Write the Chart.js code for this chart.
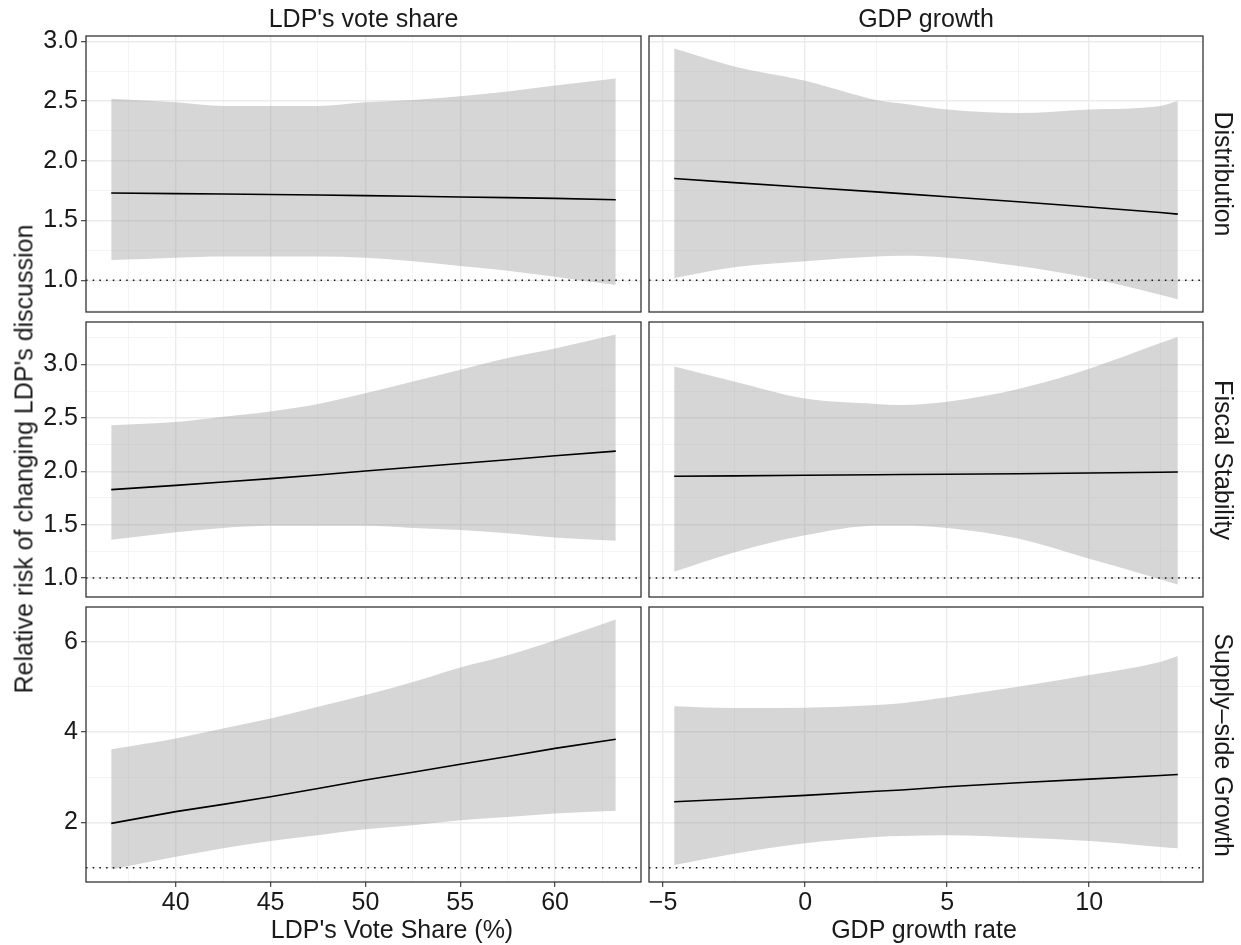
<!DOCTYPE html>
<html>
<head>
<meta charset="utf-8">
<script src="https://cdn.jsdelivr.net/npm/chart.js@4.4.0/dist/chart.umd.min.js"></script>
<style>
  body { margin: 0; background: #fff; }
  #wrap { position: relative; width: 1241px; height: 945px; overflow: hidden; font-family: "Liberation Sans", Arial, sans-serif; }
  #wrap canvas { position: absolute; left: 0; top: 0; }
  .lbl { position: absolute; white-space: nowrap; color: #1a1a1a; font-size: 25px; line-height: 1; }
  .center { transform: translate(-50%, -50%); }
  .rotl { transform: translate(-50%, -50%) rotate(-90deg); }
  .rotr { transform: translate(-50%, -50%) rotate(90deg); }
</style>
</head>
<body>
<div id="wrap"></div>
<script>
// facet labels
const colLabels = ["LDP's vote share", 'GDP growth'];
const rowLabels = ['Distribution', 'Fiscal Stability', 'Supply\u2013side Growth'];
const xTitles = ["LDP's Vote Share (%)", 'GDP growth rate'];
const yTitle = "Relative risk of changing LDP's discussion";

// x values where the curves were read
const voteShareX = [36.6, 40, 42.5, 45, 47.5, 50, 52.5, 55, 57.5, 60, 63.2];
const gdpX = [-4.61, -2.5, 0, 2.5, 3.4, 5, 7.5, 10, 12.5, 13.12];

// Distribution
const distVoteFit  = [1.731, 1.726, 1.722, 1.718, 1.714, 1.709, 1.704, 1.698, 1.692, 1.686, 1.675];
const distVoteLow  = [1.17, 1.19, 1.20, 1.20, 1.20, 1.19, 1.16, 1.12, 1.08, 1.03, 0.96];
const distVoteHigh = [2.52, 2.49, 2.46, 2.46, 2.46, 2.49, 2.51, 2.54, 2.58, 2.63, 2.69];
const distGdpFit   = [1.852, 1.818, 1.779, 1.740, 1.726, 1.699, 1.658, 1.614, 1.568, 1.554];
const distGdpLow   = [1.02, 1.11, 1.16, 1.20, 1.205, 1.19, 1.12, 1.02, 0.88, 0.84];
const distGdpHigh  = [2.94, 2.79, 2.67, 2.51, 2.48, 2.43, 2.40, 2.43, 2.46, 2.50];

// Fiscal Stability
const fiscalVoteFit  = [1.828, 1.868, 1.899, 1.931, 1.965, 2.003, 2.037, 2.073, 2.108, 2.145, 2.188];
const fiscalVoteLow  = [1.36, 1.43, 1.47, 1.49, 1.49, 1.49, 1.47, 1.45, 1.42, 1.38, 1.35];
const fiscalVoteHigh = [2.43, 2.46, 2.51, 2.56, 2.63, 2.73, 2.84, 2.95, 3.06, 3.15, 3.28];
const fiscalGdpFit   = [1.953, 1.957, 1.962, 1.967, 1.969, 1.972, 1.977, 1.983, 1.99, 1.993];
const fiscalGdpLow   = [1.06, 1.24, 1.40, 1.49, 1.49, 1.47, 1.37, 1.18, 0.99, 0.94];
const fiscalGdpHigh  = [2.98, 2.84, 2.68, 2.63, 2.62, 2.65, 2.77, 2.96, 3.20, 3.26];

// Supply-side Growth
const supplyVoteFit  = [1.98, 2.24, 2.40, 2.57, 2.75, 2.94, 3.11, 3.29, 3.46, 3.64, 3.84];
const supplyVoteLow  = [0.96, 1.24, 1.43, 1.59, 1.72, 1.85, 1.94, 2.05, 2.12, 2.20, 2.26];
const supplyVoteHigh = [3.62, 3.86, 4.08, 4.30, 4.56, 4.82, 5.11, 5.43, 5.70, 6.03, 6.49];
const supplyGdpFit   = [2.46, 2.52, 2.60, 2.69, 2.72, 2.79, 2.88, 2.96, 3.04, 3.06];
const supplyGdpLow   = [1.06, 1.31, 1.54, 1.68, 1.70, 1.72, 1.67, 1.59, 1.46, 1.43];
const supplyGdpHigh  = [4.57, 4.53, 4.54, 4.60, 4.64, 4.77, 5.00, 5.26, 5.55, 5.68];

// tick labels
const voteTicks = [40, 45, 50, 55, 60];
const gdpTicks = [-5, 0, 5, 10];
const distTicks = [1.0, 1.5, 2.0, 2.5, 3.0];
const fiscalTicks = [1.0, 1.5, 2.0, 2.5, 3.0];
const supplyTicks = [2, 4, 6];
const refLine = 1;

// page layout
const W = 1241, H = 945;
const colLeft = [86, 649], colRight = [641, 1203];
const rowTop = [36, 322, 607], rowBottom = [312, 597, 882];
const xTitleCenter = [392, 924];
const FONT = '"Liberation Sans", Arial, sans-serif';
const TICK_SIZE = 25;

const xs = [voteShareX, gdpX];
const xTicks = [voteTicks, gdpTicks];
const yTicks = [distTicks, fiscalTicks, supplyTicks];
const fits = [[distVoteFit, distGdpFit], [fiscalVoteFit, fiscalGdpFit], [supplyVoteFit, supplyGdpFit]];
const lows = [[distVoteLow, distGdpLow], [fiscalVoteLow, fiscalGdpLow], [supplyVoteLow, supplyGdpLow]];
const highs = [[distVoteHigh, distGdpHigh], [fiscalVoteHigh, fiscalGdpHigh], [supplyVoteHigh, supplyGdpHigh]];

// ggplot style 5% expansion
function expand(lo, hi) {
  const d = (hi - lo) * 0.05;
  return [lo - d, hi + d];
}
const xLim = xs.map(a => expand(Math.min(...a), Math.max(...a)));
const yLim = [0, 1, 2].map(r => {
  const all = lows[r][0].concat(lows[r][1], highs[r][0], highs[r][1], [refLine]);
  return expand(Math.min(...all), Math.max(...all));
});

function isMajor(v, major) {
  return major.some(m => Math.abs(m - v) < 1e-9);
}
// major ticks plus midpoints for minor grid
function gridValues(major, min, max) {
  const step = major[1] - major[0];
  const vals = major.slice();
  for (let i = -1; i < major.length; i++) vals.push(major[0] + (i + 0.5) * step);
  return vals.filter(v => v >= min && v <= max).sort((a, b) => a - b);
}
function fmt(v, major) {
  const dec = major.some(m => m % 1 !== 0) ? 1 : 0;
  const s = Math.abs(v).toFixed(dec);
  return v < 0 ? '\u2212' + s : s;
}

const framePlugin = {
  id: 'frame',
  afterDraw(chart) {
    const a = chart.chartArea, ctx = chart.ctx;
    ctx.save();
    ctx.strokeStyle = '#333333';
    ctx.lineWidth = 1.3;
    ctx.strokeRect(a.left, a.top, a.right - a.left, a.bottom - a.top);
    ctx.restore();
  }
};

function axisGrid(major, showTicks) {
  return {
    color: ctx => isMajor(ctx.tick.value, major) ? '#EBEBEB' : '#F3F3F3',
    lineWidth: ctx => isMajor(ctx.tick.value, major) ? 1.4 : 0.9,
    drawTicks: showTicks,
    tickLength: 5,
    tickWidth: 1.1,
    tickColor: ctx => isMajor(ctx.tick.value, major) ? '#333333' : 'rgba(0,0,0,0)'
  };
}

const wrap = document.getElementById('wrap');

function makePanel(r, c) {
  const canvas = document.createElement('canvas');
  canvas.width = W; canvas.height = H;
  canvas.style.width = W + 'px'; canvas.style.height = H + 'px';
  wrap.appendChild(canvas);

  const showX = r === 2, showY = c === 0;
  const yW = showY ? 70 : 0, xH = showX ? 40 : 0;
  const [xmin, xmax] = xLim[c], [ymin, ymax] = yLim[r];
  const xMajor = xTicks[c], yMajor = yTicks[r];
  const pts = arr => xs[c].map((x, i) => ({ x: x, y: arr[i] }));

  new Chart(canvas, {
    type: 'line',
    data: {
      datasets: [
        { data: pts(highs[r][c]), fill: '+1', backgroundColor: 'rgba(153,153,153,0.4)', borderWidth: 0, pointRadius: 0, cubicInterpolationMode: 'monotone', order: 3 },
        { data: pts(lows[r][c]), fill: false, borderWidth: 0, pointRadius: 0, cubicInterpolationMode: 'monotone', order: 3 },
        { data: pts(fits[r][c]), fill: false, borderColor: '#000', borderWidth: 1.6, pointRadius: 0, order: 1 },
        { data: [{ x: xmin, y: refLine }, { x: xmax, y: refLine }], fill: false, borderColor: '#111', borderWidth: 1.5, borderDash: [1.5, 5.2], pointRadius: 0, order: 0 }
      ]
    },
    options: {
      responsive: false,
      animation: false,
      events: [],
      layout: {
        padding: { left: colLeft[c] - yW, right: W - colRight[c], top: rowTop[r], bottom: H - rowBottom[r] - xH }
      },
      plugins: { legend: { display: false }, tooltip: { enabled: false } },
      scales: {
        x: {
          type: 'linear', min: xmin, max: xmax,
          afterBuildTicks: s => { s.ticks = gridValues(xMajor, xmin, xmax).map(v => ({ value: v })); },
          afterFit: s => { s.height = xH; },
          border: { display: false },
          grid: axisGrid(xMajor, showX),
          ticks: {
            display: showX, autoSkip: false, maxRotation: 0, padding: 1,
            color: '#1a1a1a', font: { family: FONT, size: TICK_SIZE },
            callback: v => isMajor(v, xMajor) ? fmt(v, xMajor) : ''
          }
        },
        y: {
          type: 'linear', min: ymin, max: ymax,
          afterBuildTicks: s => { s.ticks = gridValues(yMajor, ymin, ymax).map(v => ({ value: v })); },
          afterFit: s => { s.width = yW; },
          border: { display: false },
          grid: axisGrid(yMajor, showY),
          ticks: {
            display: showY, autoSkip: false, padding: 3,
            color: '#1a1a1a', font: { family: FONT, size: TICK_SIZE },
            callback: v => isMajor(v, yMajor) ? fmt(v, yMajor) : ''
          }
        }
      }
    },
    plugins: [framePlugin]
  });
}

for (let r = 0; r < 3; r++) {
  for (let c = 0; c < 2; c++) makePanel(r, c);
}

// strip and axis titles
function addLabel(text, x, y, cls) {
  const d = document.createElement('div');
  d.className = 'lbl ' + cls;
  d.style.left = x + 'px';
  d.style.top = y + 'px';
  d.textContent = text;
  wrap.appendChild(d);
}
colLabels.forEach((t, c) => addLabel(t, (colLeft[c] + colRight[c]) / 2, 18, 'center'));
rowLabels.forEach((t, r) => addLabel(t, 1223, (rowTop[r] + rowBottom[r]) / 2, 'rotr'));
xTitles.forEach((t, c) => addLabel(t, xTitleCenter[c], 929, 'center'));
addLabel(yTitle, 24, (rowTop[0] + rowBottom[2]) / 2, 'rotl');
</script>
</body>
</html>
